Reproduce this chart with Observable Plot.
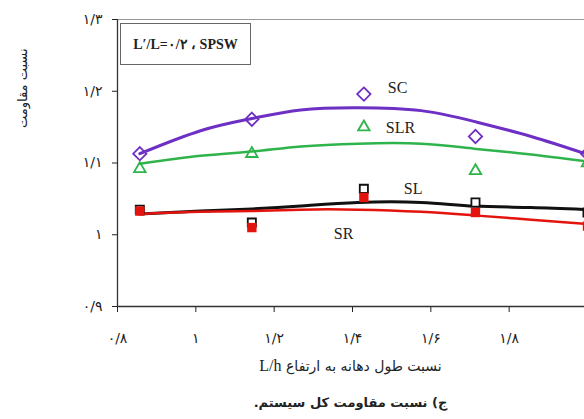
<!DOCTYPE html>
<html><head><meta charset="utf-8">
<script src="https://cdn.jsdelivr.net/npm/d3@7"></script>
<script src="https://cdn.jsdelivr.net/npm/@observablehq/plot@0.6"></script>
<style>
body{margin:0;background:#fff;}
#wrap{position:relative;width:584px;height:419px;overflow:hidden;background:#fff;font-family:"Liberation Serif","DejaVu Sans",serif;}
#chart{position:absolute;left:0;top:0;}
#legend{position:absolute;left:120px;top:23px;width:131px;height:42px;border:1px solid #666;box-sizing:border-box;
  font-family:"Liberation Serif",serif;font-weight:bold;font-size:14px;color:#222;display:flex;align-items:center;justify-content:center;white-space:nowrap;}
.note{position:absolute;left:117px;width:467px;text-align:center;color:#222;font-family:"DejaVu Sans",sans-serif;}
#xlabel{top:357px;font-size:14px;}
#caption{top:395px;font-size:13px;font-weight:bold;}
</style>
</head><body>
<div id="wrap">
  <div id="chart"></div>
  <div id="legend"><span dir="ltr">L′/L=۰/۲ ، SPSW</span></div>
  <div id="xlabel" class="note" dir="rtl">نسبت طول دهانه به ارتفاع <span dir="ltr" style="font-family:'Liberation Serif',serif;font-size:16px">L/h</span></div>
  <div id="caption" class="note" dir="rtl">ج) نسبت مقاومت کل سیستم.</div>
</div>
<script>
// measured points (L/h)
const xVals = [0.857, 1.143, 1.429, 1.714, 2.0];
const sc  = [1.113, 1.161, 1.196, 1.137, 1.113];
const slr = [1.092, 1.113, 1.150, 1.089, 1.100];
const sl  = [1.035, 1.017, 1.064, 1.045, 1.031];
const sr  = [1.033, 1.010, 1.052, 1.031, 1.012];

// fitted trend curves
const fitX   = [0.857, 1.012, 1.143, 1.268, 1.414, 1.575, 1.710, 1.856, 2.0];
const scFit  = [1.113, 1.145, 1.162, 1.174, 1.177, 1.173, 1.158, 1.137, 1.112];
const slrFit = [1.099, 1.110, 1.116, 1.123, 1.127, 1.127, 1.120, 1.112, 1.102];
const slFit  = [1.029, 1.033, 1.036, 1.040, 1.045, 1.045, 1.040, 1.038, 1.035];
const srFit  = [1.029, 1.032, 1.033, 1.035, 1.035, 1.032, 1.027, 1.021, 1.015];

const seriesNames = ["SC", "SLR", "SL", "SR"];

const xTicks = [0.8, 1.0, 1.2, 1.4, 1.6, 1.8, 2.0];
const xTickLabels = ["۰/۸", "۱", "۱/۲", "۱/۴", "۱/۶", "۱/۸", "۲"];
const yTicks = [0.9, 1.0, 1.1, 1.2, 1.3];
const yTickLabels = ["۰/۹", "۱", "۱/۱", "۱/۲", "۱/۳"];
const yTitle = "نسبت مقاومت";

const pts = (ys) => xVals.map((x, i) => ({x, y: ys[i]}));
const fit = (ys) => fitX.map((x, i) => ({x, y: ys[i]}));

const C = {SC: "#6e2fc4", SLR: "#2fb44c", SL: "#111", SR: "#e3140e"};
const lab = (name, ys, dx, dy) => Plot.text([{x: xVals[2], y: ys[2], t: name}], {
  x: "x", y: "y", text: "t", dx, dy, textAnchor: "start", fontSize: 16,
  fontFamily: "Liberation Serif, serif", fill: "#222"
});

const chart = Plot.plot({
  width: 584, height: 345,
  marginLeft: 117, marginRight: -3, marginTop: 19, marginBottom: 39,
  style: {fontFamily: "DejaVu Sans, sans-serif", fontSize: "12px", color: "#222", background: "transparent"},
  x: {domain: [0.8, 2.0]},
  y: {domain: [0.9, 1.3]},
  marks: [
    Plot.ruleY([1.3], {stroke: "#999", strokeWidth: 1}),
    Plot.axisX({ticks: xTicks, tickFormat: d => xTickLabels[xTicks.findIndex(t => Math.abs(t - d) < 1e-9)],
      tickSize: 6, tickPadding: 21, label: null, fontSize: 14}),
    Plot.axisY({ticks: yTicks, tickFormat: d => yTickLabels[yTicks.findIndex(t => Math.abs(t - d) < 1e-9)],
      tickSize: 5, tickPadding: 10, label: null, fontSize: 14}),
    Plot.ruleX([0.8], {stroke: "#333", strokeWidth: 1.3}),
    Plot.ruleY([0.9], {stroke: "#333", strokeWidth: 1.3}),
    Plot.text([yTitle], {frameAnchor: "left", dx: -95, dy: -35, rotate: -90, fontSize: 13, fill: "#222"}),
    Plot.line(fit(slrFit), {x: "x", y: "y", stroke: C.SLR, strokeWidth: 2.5, curve: "natural"}),
    Plot.line(fit(scFit), {x: "x", y: "y", stroke: C.SC, strokeWidth: 3, curve: "natural"}),
    Plot.line(fit(slFit), {x: "x", y: "y", stroke: C.SL, strokeWidth: 3, curve: "natural"}),
    Plot.line(fit(srFit), {x: "x", y: "y", stroke: C.SR, strokeWidth: 2.5, curve: "natural"}),
    Plot.dot(pts(sc), {x: "x", y: "y", symbol: "diamond2", r: 6, stroke: C.SC, strokeWidth: 1.8, fill: "none"}),
    Plot.dot(pts(slr), {x: "x", y: "y", symbol: "triangle2", r: 5.5, stroke: C.SLR, strokeWidth: 1.8, fill: "none"}),
    Plot.dot(pts(sl), {x: "x", y: "y", symbol: "square", r: 4.6, stroke: C.SL, strokeWidth: 1.8, fill: "white"}),
    Plot.dot(pts(sr), {x: "x", y: "y", symbol: "square", r: 5.3, fill: C.SR, stroke: "none"}),
    lab(seriesNames[0], sc, 24, -6),
    lab(seriesNames[1], slr, 22, 1),
    lab(seriesNames[2], sl, 40, 0),
    lab(seriesNames[3], sr, -30, 36)
  ]
});
document.getElementById("chart").appendChild(chart);
</script>
</body></html>
